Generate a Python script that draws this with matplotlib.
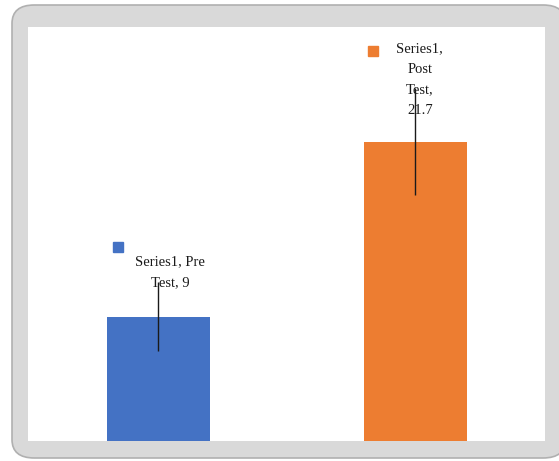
import matplotlib
matplotlib.use("Agg")
from matplotlib import pyplot as plt
from matplotlib.patches import FancyBboxPatch

# chart data
categories = ["Pre Test", "Post Test"]
values = [9, 21.7]
errors = [2.5, 3.85]
colors = ["#4472c4", "#ed7d31"]
labels = ["Series1, Pre\nTest, 9", "Series1,\nPost\nTest,\n21.7"]

# label anchor positions (data coords): text centre and key square
label_pos = [(0.047, 12.25), (1.017, 26.2)]
key_pos = [(-0.157, 14.06), (0.834, 28.25)]

fig = plt.figure(figsize=(5.59, 4.61), dpi=100)

# grey rounded frame behind the chart
frame = FancyBboxPatch((12 / 559, 3 / 461), 0.99, 453 / 461,
                       boxstyle="round,pad=0,rounding_size=0.04",
                       transform=fig.transFigure, facecolor="#d9d9d9",
                       edgecolor="#b0b0b0", linewidth=1.2, clip_on=False,
                       zorder=-1)
fig.patches.append(frame)

ax = fig.add_axes([28 / 559, 20 / 461, 517 / 559, 414 / 461])
ax.set_facecolor("white")

x = list(range(len(categories)))
ax.bar(x, values, width=0.4, color=colors, zorder=2)
ax.errorbar(x, values, yerr=errors, fmt="none", ecolor="#1a1a1a",
            elinewidth=1, capsize=0, zorder=3)

for (tx, ty), (kx, ky), text, c in zip(label_pos, key_pos, labels, colors):
    ax.text(tx, ty, text, ha="center", va="center", fontsize=10.5,
            family="Liberation Serif", linespacing=1.78, color="#1a1a1a",
            zorder=4)
    ax.plot(kx, ky, marker="s", markersize=6.5, color=c, zorder=4)

ax.set_xlim(-0.505, 1.503)
ax.set_ylim(0, 30)
ax.set_xticks([])
ax.set_yticks([])
for side in ax.spines.values():
    side.set_visible(False)

fig.savefig("out.png", dpi=100)
